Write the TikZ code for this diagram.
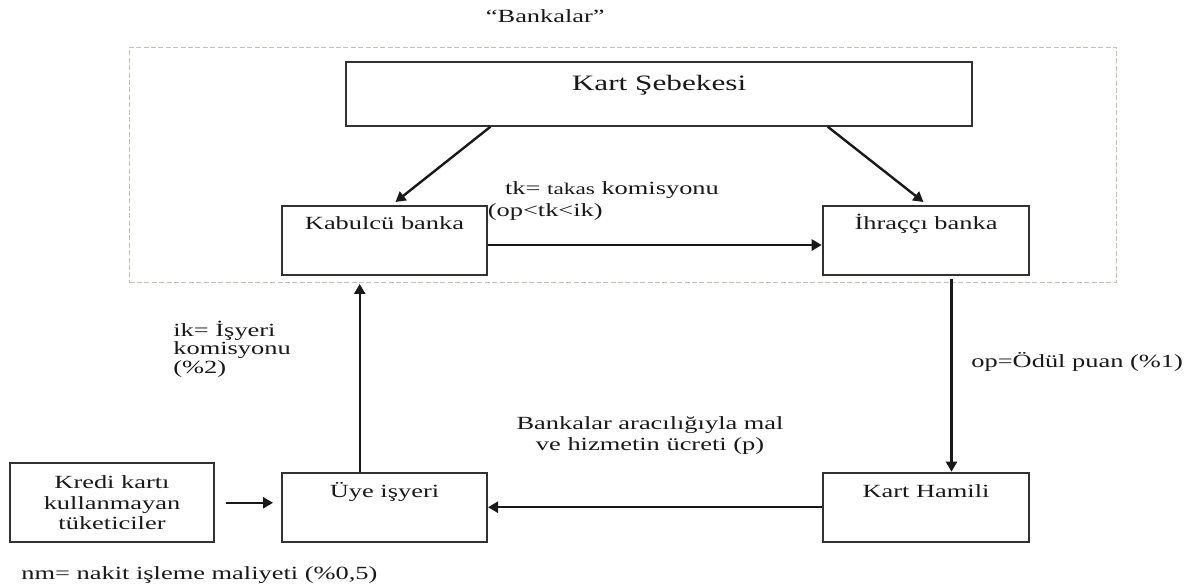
\documentclass[tikz,border=0pt]{standalone}
\usepackage{fontspec}
\setmainfont{Liberation Serif}[FakeStretch=1.42]
\usetikzlibrary{arrows.meta}
\definecolor{framecol}{RGB}{196,196,178}
\definecolor{boxcol}{RGB}{50,50,50}
\begin{document}
\begin{tikzpicture}[x=0.5pt,y=-0.5pt,
 every node/.style={font=\fontsize{9.3}{10.4}\selectfont,text=black!90},
 box/.style={draw=boxcol,line width=1pt,inner sep=0pt,minimum width=102.5pt,text height=11.75pt,text depth=22.75pt},
 arr/.style={draw=black!90,line width=1.2pt,-{Triangle[length=5pt,width=5.5pt]}},
 lbl/.style={anchor=west,align=left,inner sep=0pt}]
 \useasboundingbox (0,0) rectangle (1198,587);
 % bank frame
 \node[draw=framecol,line width=0.5pt,dash pattern=on 2.5pt off 1.2pt,minimum width=493.5pt,minimum height=117.7pt,inner sep=0pt] (frame) at (623.1,165) {};
 \node[lbl] (title) at (485.5,16) {“Bankalar”};
 % boxes
 \node[box,minimum width=313pt,text height=14pt,text depth=17.7pt,font=\fontsize{11}{13}\selectfont] (net) at (659,94) {Kart Şebekesi};
 \node[box] (kab) at (384.5,240.5) {Kabulcü banka};
 \node[box,minimum width=103.3pt] (ihr) at (926,240.5) {İhraççı banka};
 \node[box,minimum width=103.3pt,text height=12.15pt,text depth=22.35pt] (hamil) at (926,507.2) {Kart Hamili};
 \node[box,text height=12.15pt,text depth=22.35pt] (uye) at (384.5,507.2) {Üye işyeri};
 \node[box,minimum width=102.35pt,text height=,text depth=,minimum height=39.5pt,align=center] (kredi) at (112,502.8) {Kredi kartı\\kullanmayan\\tüketiciler};
 % labels
 \node[lbl,font=\fontsize{9.3}{11}\selectfont] (tk) at (487.4,201) {\hspace*{8.6pt}tk= {\fontsize{8.2}{10}\selectfont takas} komisyonu\\(op<tk<ik)};
 \node[lbl,font=\fontsize{9.3}{9.3}\selectfont] (ik) at (173,349) {ik= İşyeri\\komisyonu\\(\%2)};
 \node[lbl] (op) at (971,361.7) {op=Ödül puan (\%1)};
 \node[align=center,inner sep=0pt,font=\fontsize{9.3}{10.5}\selectfont] (pay) at (650,436) {Bankalar aracılığıyla mal\\ve hizmetin ücreti (p)};
 \node[lbl] (nm) at (21,575) {nm= nakit işleme maliyeti (\%0,5)};
 % connectors
 \draw[arr] ([xshift=-84.25pt]net.south) -- ([xshift=5.5pt,yshift=1.5pt]kab.north);
 \draw[arr] ([xshift=84.35pt]net.south) -- ([xshift=-1.3pt,yshift=1.5pt]ihr.north);
 \draw[arr] ([yshift=-2.25pt]kab.east) -- ([yshift=-2.25pt]ihr.west);
 \draw[arr] ([xshift=12.75pt,yshift=-1.5pt]ihr.south) -- ([xshift=12.75pt]hamil.north);
 \draw[arr] (hamil.west) -- (uye.east);
 \draw[arr] ([xshift=-12.4pt]uye.north) -- ([xshift=-12.4pt,yshift=-4pt]kab.south);
 \draw[arr,shorten <=5.3pt,shorten >=4pt] (kredi.east) -- (kredi.east -| uye.west);
\end{tikzpicture}
\end{document}
